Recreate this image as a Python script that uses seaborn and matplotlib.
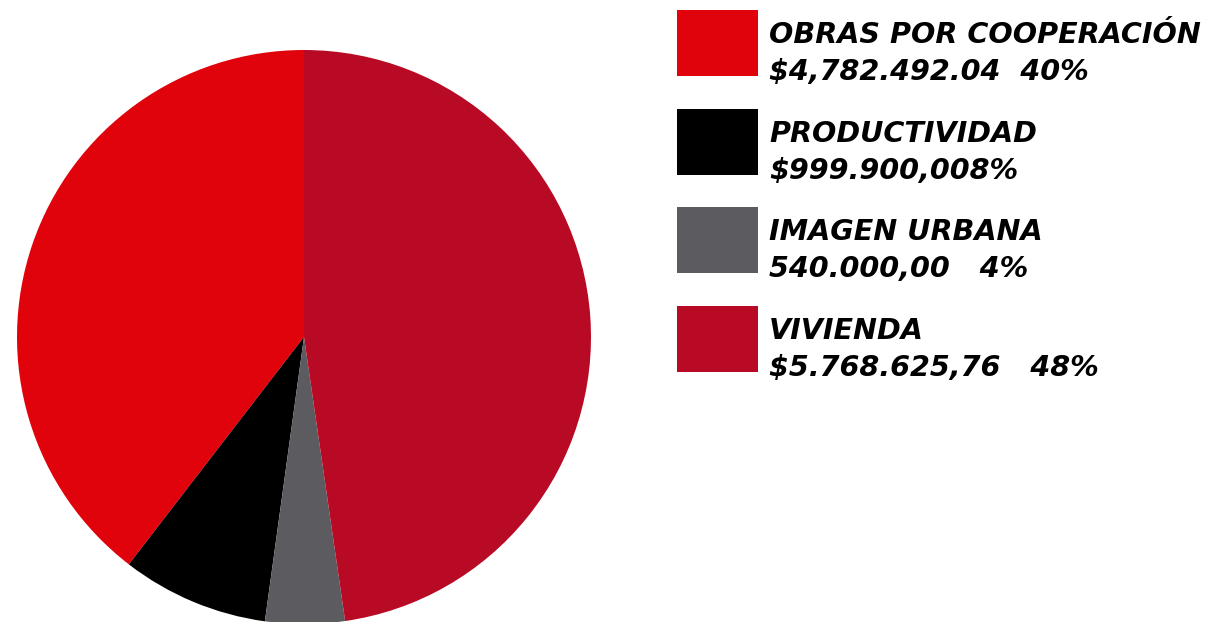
import matplotlib
matplotlib.use("Agg")
import matplotlib.pyplot as plt
import seaborn as sns
from matplotlib.patches import Rectangle

sns.set_style("white")
plt.rcParams['font.family'] = ['DejaVu Sans']

# datos
categorias = ['OBRAS POR COOPERACIÓN', 'PRODUCTIVIDAD', 'IMAGEN URBANA', 'VIVIENDA']
montos = [4782492.04, 999900.00, 540000.00, 5768625.76]
textos_monto = ['$4,782.492.04  40%', '$999.900,008%', '540.000,00   4%', '$5.768.625,76   48%']
colores = ['#E0030B', '#000000', '#5C5B60', '#B80A25']

W, H = 1212, 622
fig = plt.figure(figsize=(W / 100, H / 100), dpi=100)

# pie: centro (304, 337), radio 287 px
cx, cy, r = 304, 337, 287
ax = fig.add_axes([(cx - r) / W, (H - cy - r) / H, 2 * r / W, 2 * r / H])
ax.pie(montos, colors=colores, startangle=90, counterclock=True,
       radius=1, wedgeprops=dict(linewidth=0))
ax.set_xlim(-1, 1)
ax.set_ylim(-1, 1)
ax.set_aspect('equal')
ax.axis('off')

# leyenda manual
for i, (cat, txt, col) in enumerate(zip(categorias, textos_monto, colores)):
    top = 10 + i * 98.7
    fig.patches.append(Rectangle((677 / W, 1 - (top + 66) / H), 81 / W, 66 / H,
                                 transform=fig.transFigure, color=col, linewidth=0))
    fig.text(769 / W, 1 - (top + 33) / H, cat, fontsize=20.6, fontweight='heavy',
             fontstyle='italic', va='baseline', ha='left', color='black')
    fig.text(769 / W, 1 - (top + 70) / H, txt, fontsize=20.6, fontweight='heavy',
             fontstyle='italic', va='baseline', ha='left', color='black')

fig.savefig('out.png', dpi=100)
